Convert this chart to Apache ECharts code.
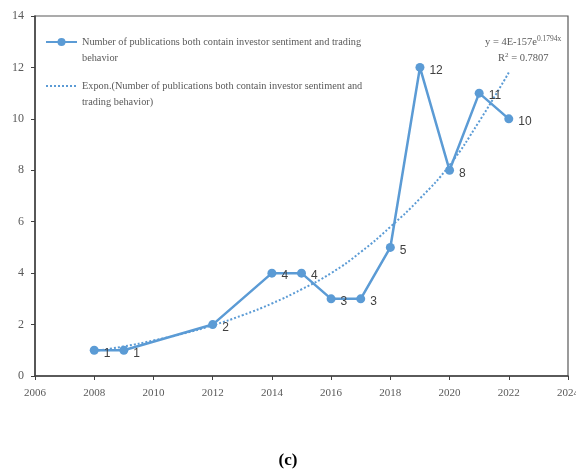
<!DOCTYPE html>
<html>
<head>
<meta charset="utf-8">
<script src="https://cdn.jsdelivr.net/npm/echarts@6/dist/echarts.min.js"></script>
<style>
  html, body { margin: 0; padding: 0; background: #fff; }
  #main { width: 576px; height: 473px; }
</style>
</head>
<body>
<div id="main"></div>
<script>
// publications per year
var years = [2008, 2009, 2012, 2014, 2015, 2016, 2017, 2018, 2019, 2020, 2021, 2022];
var counts = [1, 1, 2, 4, 4, 3, 3, 5, 12, 8, 11, 10];

// exponential trend line
var trendYears = [2008, 2009, 2010, 2011, 2012, 2013, 2014, 2015, 2016, 2017, 2018, 2019, 2020, 2021, 2022];
var trendValues = [0.97, 1.15, 1.38, 1.65, 1.97, 2.36, 2.82, 3.37, 4.0, 4.82, 5.8, 6.9, 8.2, 9.9, 11.8];

var seriesName = 'Number of publications both contain investor sentiment and trading behavior';
var trendName = 'Expon.(Number of publications both contain investor sentiment and trading behavior)';

var blue = '#5B9BD5';
var serif = "'Liberation Serif', 'Times New Roman', serif";
var narrow = "'Liberation Sans Narrow', 'Liberation Sans', sans-serif";

var myChart = echarts.init(document.getElementById('main'));

var option = {
    animation: false,
    backgroundColor: '#fff',
    title: {
        text: '(c)',
        left: 'center',
        top: 447,
        textStyle: { fontFamily: serif, fontSize: 17, fontWeight: 'bold', color: '#000' }
    },
    grid: {
        left: 35, right: 8, top: 16, bottom: 97,
        outerBoundsMode: 'none',
        show: true, borderColor: '#595959', borderWidth: 1.2
    },
    legend: [{
        data: [seriesName],
        orient: 'vertical',
        left: 45, top: 18, padding: 0,
        itemWidth: 31, itemHeight: 10,
        formatter: function () {
            return ' \nNumber of publications both contain investor sentiment and trading\nbehavior';
        },
        textStyle: { fontFamily: serif, fontSize: 10.3, lineHeight: 16, color: '#595959' }
    }, {
        data: [trendName],
        orient: 'vertical',
        left: 45, top: 62, padding: 0,
        itemWidth: 31, itemHeight: 10,
        itemStyle: { opacity: 0 },
        formatter: function () {
            return ' \nExpon.(Number of publications both contain investor sentiment and\ntrading behavior)';
        },
        textStyle: { fontFamily: serif, fontSize: 10.3, lineHeight: 16, color: '#595959' }
    }],
    xAxis: {
        type: 'value',
        min: 2006, max: 2024, interval: 2,
        axisLine: { lineStyle: { color: '#404040', width: 1.5 } },
        axisTick: { show: true, inside: false, length: 4, lineStyle: { color: '#404040' } },
        axisLabel: {
            margin: 12, fontFamily: serif, fontSize: 11, color: '#595959',
            formatter: function (v) { return String(v); }
        },
        splitLine: { show: false }
    },
    yAxis: {
        type: 'value',
        min: 0, max: 14, interval: 2,
        axisLine: { show: true, lineStyle: { color: '#404040', width: 1.5 } },
        axisTick: { show: true, inside: false, length: 4, lineStyle: { color: '#404040' } },
        axisLabel: { margin: 11, fontFamily: serif, fontSize: 12, color: '#595959' },
        splitLine: { show: false }
    },
    graphic: [{
        type: 'text',
        left: 485, top: 35,
        style: {
            text: '{a|y = 4E-157e}{b|0.1794x}',
            rich: {
                a: { fontFamily: serif, fontSize: 10.5, fill: '#595959' },
                b: { fontFamily: serif, fontSize: 7.5, fill: '#595959', padding: [0, 0, 7, 0] }
            }
        }
    }, {
        type: 'text',
        left: 498, top: 52,
        style: {
            text: '{a|R}{b|2}{a| = 0.7807}',
            rich: {
                a: { fontFamily: serif, fontSize: 10.5, fill: '#595959' },
                b: { fontFamily: serif, fontSize: 7, fill: '#595959', padding: [0, 0, 6, 0] }
            }
        }
    }],
    series: [{
        name: trendName,
        type: 'line',
        smooth: true,
        symbol: 'none',
        data: trendYears.map(function (y, i) { return [y, trendValues[i]]; }),
        lineStyle: { color: blue, width: 2, type: 'dotted' },
        itemStyle: { color: blue },
        z: 2
    }, {
        name: seriesName,
        type: 'line',
        symbol: 'circle',
        symbolSize: 9,
        data: years.map(function (y, i) { return [y, counts[i]]; }),
        lineStyle: { color: blue, width: 2.5 },
        itemStyle: { color: blue },
        label: {
            show: true,
            position: 'right',
            offset: [0, 3],
            fontFamily: narrow,
            fontSize: 12,
            color: '#404040'
        },
        z: 3
    }]
};

option && myChart.setOption(option);
window.addEventListener('resize', function () {
    myChart.resize();
});
</script>
</body>
</html>
